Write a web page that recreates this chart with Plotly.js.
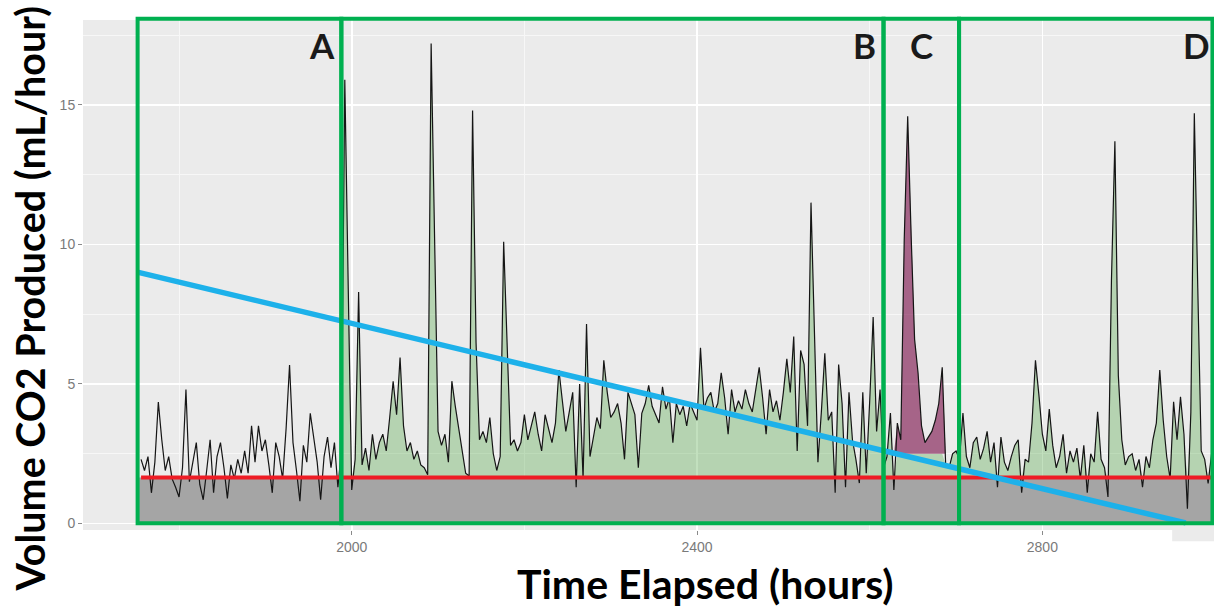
<!DOCTYPE html>
<html>
<head>
<meta charset="utf-8">
<script src="https://cdn.plot.ly/plotly-3.0.1.min.js"></script>
<style>html,body{margin:0;padding:0;background:#fff;}#chart{width:1214px;height:609px;}</style>
</head>
<body>
<div id="chart"></div>
<script>
// ---- data ----
const startHour = 1756;      // first sample (hours elapsed)
const stepHours = 4;
const co2Rate = [
  2.3, 1.9, 2.4, 1.1, 2.2, 4.35, 3.0, 1.9, 2.4, 1.6,
  1.3, 0.95, 2.0, 4.8, 1.5, 2.2, 2.9, 1.4, 0.85, 1.9,
  3.0, 1.1, 2.4, 2.9, 2.0, 0.9, 2.1, 1.6, 2.3, 1.8,
  2.6, 1.8, 3.5, 2.2, 3.5, 2.6, 3.0, 2.1, 1.1, 2.9,
  2.4, 1.6, 3.4, 5.68, 2.9, 1.9, 0.8, 2.8, 2.2, 3.95,
  3.1, 2.2, 0.85, 2.4, 3.1, 2.0, 2.9, 1.3, 2.6, 15.9,
  8.4, 1.2, 2.3, 8.3, 2.1, 2.7, 1.9, 3.2, 2.3, 2.9,
  3.2, 2.6, 3.8, 5.1, 3.9, 5.95, 3.5, 2.6, 2.9, 2.3,
  2.6, 2.1, 2.0, 1.75, 17.2, 10.0, 3.3, 2.8, 3.2, 2.2,
  5.1, 4.2, 3.4, 2.6, 1.8, 1.7, 14.8, 6.5, 3.0, 3.3,
  2.9, 3.8, 2.5, 1.9, 2.4, 10.1, 6.5, 2.8, 3.0, 2.6,
  2.9, 3.9, 3.0, 3.5, 4.0, 3.2, 2.6, 3.9, 3.4, 2.9,
  3.6, 5.5, 4.4, 3.3, 4.0, 4.7, 1.3, 5.0, 1.6, 7.15,
  2.4, 3.1, 3.8, 3.4, 5.85, 4.7, 3.8, 4.0, 4.3, 3.6,
  2.3, 4.7, 4.3, 3.9, 2.0, 3.95, 4.3, 4.95, 4.2, 3.9,
  3.6, 4.9, 4.1, 4.5, 2.9, 4.3, 3.9, 4.2, 3.5, 4.3,
  4.0, 3.7, 6.3, 4.1, 4.5, 4.7, 4.0, 4.3, 5.4, 4.5,
  3.2, 4.8, 4.0, 4.4, 4.1, 4.8, 4.3, 4.0, 4.8, 5.6,
  4.5, 3.2, 4.8, 4.0, 4.4, 3.7, 4.7, 5.9, 4.7, 6.7,
  2.6, 6.2, 5.7, 3.5, 11.5, 7.3, 2.2, 4.0, 6.1, 3.7,
  4.0, 1.1, 5.7, 4.3, 1.3, 4.7, 3.0, 2.3, 1.45, 4.7,
  1.8, 4.4, 7.4, 3.3, 4.8, 2.0, 2.4, 3.96, 1.2, 3.6,
  3.0, 10.2, 14.6, 10.3, 6.6, 5.4, 3.5, 2.9, 3.1, 3.3,
  3.7, 4.3, 5.6, 2.1, 2.0, 2.5, 2.6, 2.3, 3.96, 2.4,
  2.0, 2.9, 3.1, 2.3, 2.7, 3.3, 2.2, 2.9, 1.3, 3.1,
  2.2, 1.9, 2.4, 2.8, 3.0, 1.1, 2.3, 2.2, 3.6, 5.85,
  4.6, 3.2, 2.6, 4.1, 2.8, 2.0, 2.4, 3.2, 1.8, 2.6,
  2.2, 2.7, 1.6, 2.8, 1.1, 2.5, 2.2, 4.0, 2.3, 2.0,
  0.95, 8.7, 13.7, 5.3, 3.0, 2.1, 2.4, 2.5, 1.9, 2.3,
  1.3, 2.4, 2.0, 3.0, 3.6, 5.5, 3.7, 2.4, 1.6, 4.36,
  3.0, 4.54, 3.2, 0.53, 4.0, 14.7, 8.45, 2.6, 2.3, 1.44, 2.5
];
const baselineRate = 1.65;               // red horizontal reference level
const trendHours = [1753, 2966];         // blue trend line end points
const trendRate = [9.0, 0.02];
const regionEdges = [1752, 1988, 2616, 2703.5, 2997];
const regionLabels = ['A', 'B', 'C', 'D'];
const greenFromHour = 1988;              // green area starts with region B
const peakWindow = [2628, 2688];         // region C peak shaded in purple
const peakBase = 2.5;
const xTickVals = [2000, 2400, 2800];
const yTickVals = [0, 5, 10, 15];
const xTitle = 'Time Elapsed (hours)';
const yTitle = 'Volume CO2 Produced (mL/hour)';

// ---- derived series ----
const hours = co2Rate.map((_, i) => startHour + i * stepHours);
const firstH = hours[0], lastH = hours[hours.length - 1];

const inPeak = h => h >= peakWindow[0] && h <= peakWindow[1];
const gIdx = hours.map((h, i) => i).filter(i => hours[i] >= greenFromHour);
const greenX = gIdx.map(i => hours[i]);
const greenY = gIdx.map(i => {
  const v = Math.max(co2Rate[i], baselineRate);
  return inPeak(hours[i]) ? Math.min(v, peakBase) : v;
});
const pIdx = hours.map((h, i) => i).filter(i => inPeak(hours[i]));
const peakX = pIdx.map(i => hours[i]);
const peakY = pIdx.map(i => Math.max(co2Rate[i], peakBase));

const greyX = [regionEdges[0], regionEdges[regionEdges.length - 1]];

const traces = [
  {x: greyX, y: [0, 0], mode: 'lines', line: {width: 0}, hoverinfo: 'skip', showlegend: false},
  {x: greyX, y: [baselineRate, baselineRate], mode: 'lines', line: {width: 0},
   fill: 'tonexty', fillcolor: '#A5A5A5', hoverinfo: 'skip', showlegend: false},
  {x: greenX, y: greenX.map(() => baselineRate), mode: 'lines', line: {width: 0}, hoverinfo: 'skip', showlegend: false},
  {x: greenX, y: greenY, mode: 'lines', line: {width: 0}, fill: 'tonexty',
   fillcolor: 'rgba(80,165,70,0.35)', hoverinfo: 'skip', showlegend: false},
  {x: peakX, y: peakX.map(() => peakBase), mode: 'lines', line: {width: 0}, hoverinfo: 'skip', showlegend: false},
  {x: peakX, y: peakY, mode: 'lines', line: {width: 0}, fill: 'tonexty',
   fillcolor: 'rgba(120,10,70,0.6)', hoverinfo: 'skip', showlegend: false},
  {x: hours, y: co2Rate, mode: 'lines', line: {color: '#151515', width: 1.2}, showlegend: false},
  {x: [firstH, lastH], y: [baselineRate, baselineRate], mode: 'lines',
   line: {color: '#EE1C25', width: 4}, showlegend: false},
  {x: trendHours, y: trendRate, mode: 'lines', line: {color: '#1DB1EA', width: 5.5}, showlegend: false}
];

const yBot = 0.0131, yTop = 1.0024;
const shapes = [];
for (let i = 0; i < regionLabels.length; i++) {
  shapes.push({type: 'rect', xref: 'x', yref: 'paper', x0: regionEdges[i], x1: regionEdges[i + 1],
    y0: yBot, y1: yTop, line: {color: '#00B050', width: 4}, layer: 'above'});
}
shapes.push({type: 'rect', xref: 'paper', yref: 'paper', x0: 0.963, x1: 1.0, y0: -0.022, y1: 0,
  line: {width: 0}, fillcolor: '#EBEBEB', layer: 'below'});

const labelX = [1966, 2593.5, 2659.5, 2978];
const annotations = regionLabels.map((t, i) => ({
  text: '<b>' + t + '</b>', x: labelX[i], xref: 'x', y: 17.15, yref: 'y',
  showarrow: false, xanchor: 'center', yanchor: 'middle',
  font: {family: 'Lato, "Open Sans", sans-serif', size: 35, color: '#1a1a1a'}
}));
annotations.push({text: '<b>' + xTitle + '</b>', xref: 'paper', yref: 'paper', x: 0.55, y: -0.104,
  showarrow: false, xanchor: 'center', yanchor: 'middle',
  font: {family: 'Lato, "Open Sans", sans-serif', size: 41, color: '#000'}});
annotations.push({text: '<b>' + yTitle + '</b>', xref: 'paper', yref: 'paper', x: -0.0475, y: 0.4544,
  textangle: -90, showarrow: false, xanchor: 'center', yanchor: 'middle',
  font: {family: 'Lato, "Open Sans", sans-serif', size: 39.5, color: '#000'}});

const layout = {
  width: 1214, height: 609,
  margin: {l: 83, r: 0, t: 20, b: 79, pad: 0},
  paper_bgcolor: '#FFFFFF', plot_bgcolor: '#EBEBEB',
  showlegend: false,
  xaxis: {range: [1688.75, 2998.8], tickvals: xTickVals, ticktext: xTickVals.map(String),
    showgrid: true, gridcolor: '#FFFFFF', gridwidth: 1.6, zeroline: false, showline: false,
    ticks: 'outside', ticklen: 4, tickcolor: '#8A8A8A', tickwidth: 1,
    tickfont: {family: '"Liberation Sans", Arial, sans-serif', size: 14, color: '#7A7A7A'},
    minor: {dtick: 200, tick0: 1600, showgrid: true, gridcolor: '#F7F7F7', gridwidth: 1, ticks: ''}},
  yaxis: {range: [-0.233, 18.046], tickvals: yTickVals, ticktext: yTickVals.map(String),
    showgrid: true, gridcolor: '#FFFFFF', gridwidth: 1.6, zeroline: false, showline: false,
    ticks: 'outside', ticklen: 4, tickcolor: '#8A8A8A', tickwidth: 1,
    tickfont: {family: '"Liberation Sans", Arial, sans-serif', size: 14, color: '#7A7A7A'},
    minor: {dtick: 2.5, tick0: 0, showgrid: true, gridcolor: '#F7F7F7', gridwidth: 1, ticks: ''}},
  shapes: shapes,
  annotations: annotations
};

Plotly.newPlot('chart', traces, layout, {displayModeBar: false, staticPlot: true});
</script>
</body>
</html>
